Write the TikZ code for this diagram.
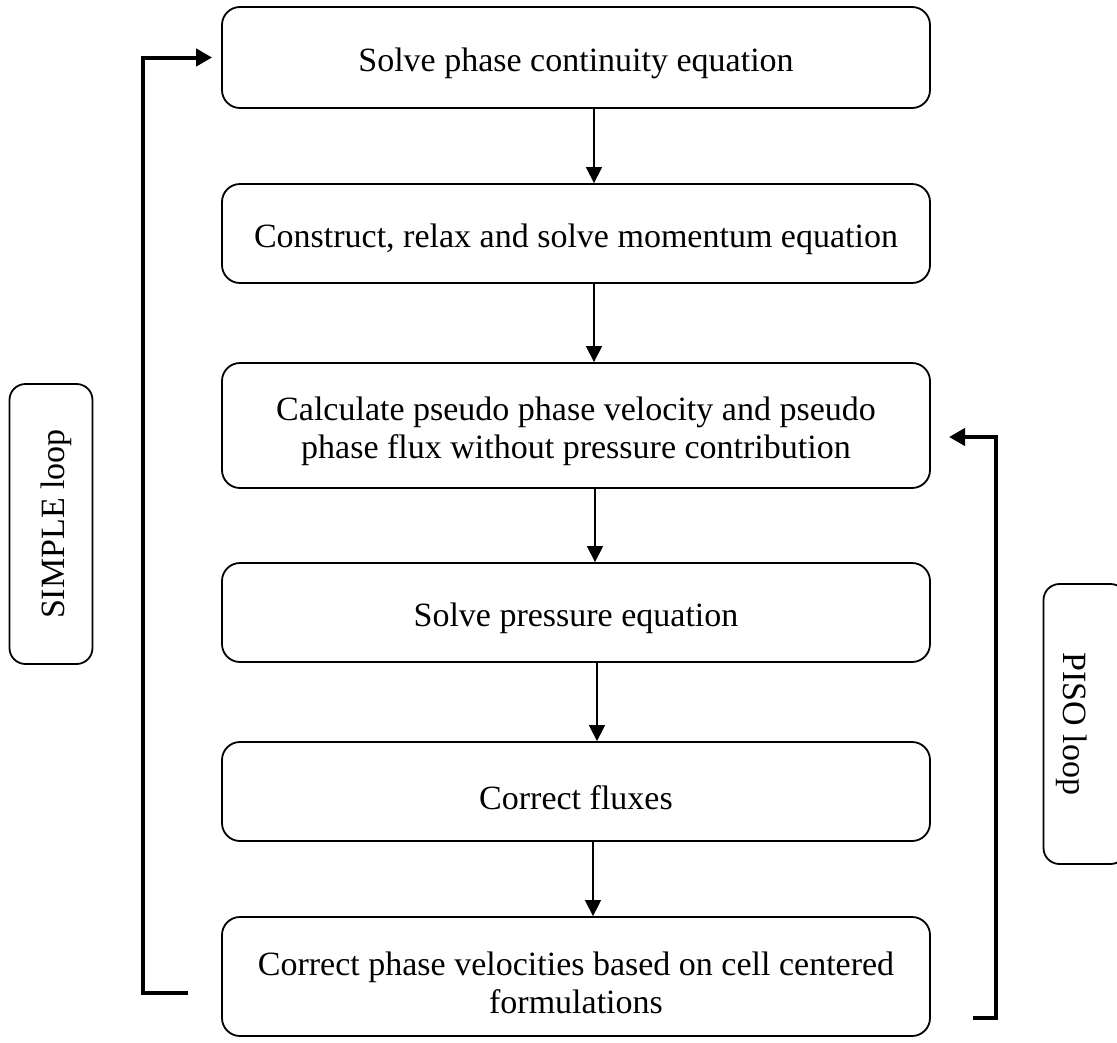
\documentclass[tikz,border=0pt]{standalone}
\usepackage{fontspec}
\setmainfont{Liberation Serif}
\usetikzlibrary{arrows.meta}
\begin{document}
\begin{tikzpicture}[x=1pt,y=-1pt,
  txt/.style={font=\fontsize{34pt}{38pt}\selectfont, inner sep=0pt, align=center},
  stepbox/.style={draw, line width=1.8pt, rounded corners=18pt, minimum width=708pt, inner sep=0pt},
  loopbox/.style={draw, line width=1.8pt, rounded corners=16pt, minimum width=83pt, minimum height=280pt, inner sep=0pt},
  flow/.style={line width=1.3pt, -{Triangle[length=16pt,width=16pt]}},
  loopline/.style={line width=4pt, -{Triangle[length=16pt,width=17pt]}}
]
\useasboundingbox (0,0) rectangle (1117,1042);
\clip (0,0) rectangle (1117,1042);

\node[stepbox, minimum height=101pt] (b1) at (576,57.5) {};
\node[stepbox, minimum height=99pt] (b2) at (576,233.5) {};
\node[stepbox, minimum height=125pt] (b3) at (576,425.5) {};
\node[stepbox, minimum height=99pt] (b4) at (576,612.5) {};
\node[stepbox, minimum height=99pt] (b5) at (576,791.5) {};
\node[stepbox, minimum height=119pt] (b6) at (576,976.5) {};

\node[txt] (t1) at ([yshift=-6pt]b1.center) {Solve phase continuity equation};
\node[txt] (t2) at ([yshift=-6pt]b2.center) {Construct, relax and solve momentum equation};
\node[txt] (t3) at ([yshift=-6pt]b3.center) {Calculate pseudo phase velocity and pseudo\\phase flux without pressure contribution};
\node[txt] (t4) at ([yshift=-6pt]b4.center) {Solve pressure equation};
\node[txt] (t5) at ([yshift=-6pt]b5.center) {Correct fluxes};
\node[txt] (t6) at ([yshift=-6pt]b6.center) {Correct phase velocities based on cell centered\\formulations};

\node[loopbox] (simple) at (51,524) {};
\node[loopbox] (piso) at (1085,724) {};
\node[txt, rotate=90] (ts) at ([xshift=5pt]simple.center) {SIMPLE loop};
\node[txt, rotate=-90] (tp) at ([xshift=-13pt]piso.center) {PISO loop};

\draw[flow] ([xshift=18pt]b1.south) -- ([xshift=18pt]b2.north);
\draw[flow] ([xshift=18pt]b2.south) -- ([xshift=18pt]b3.north);
\draw[flow] ([xshift=19pt]b3.south) -- ([xshift=19pt]b4.north);
\draw[flow] ([xshift=21pt]b4.south) -- ([xshift=21pt]b5.north);
\draw[flow] ([xshift=17pt]b5.south) -- ([xshift=17pt]b6.north);

\coordinate (s0) at (188,993);
\coordinate (s1) at (143,993);
\draw[loopline, shorten >=9pt] (s0) -- (s1) |- (b1.west);

\coordinate (p0) at (973,1018);
\coordinate (p1) at (996,1018);
\coordinate (p2) at (949,437);
\draw[loopline] (p0) -- (p1) |- (p2);
\end{tikzpicture}
\end{document}
